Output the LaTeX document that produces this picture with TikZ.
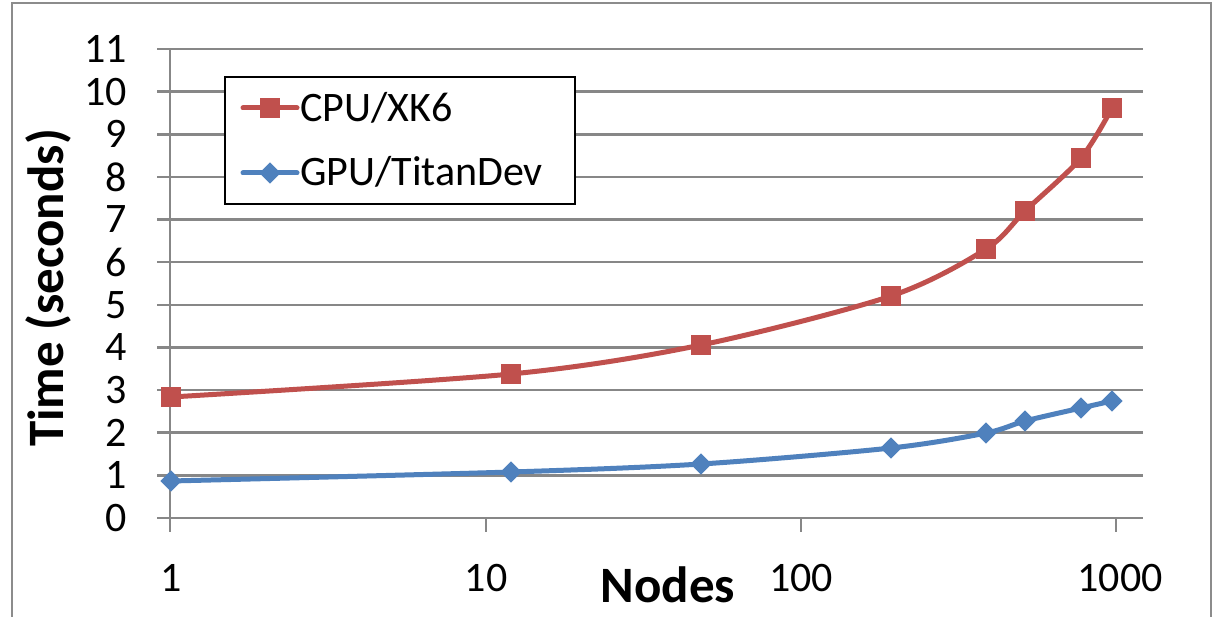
\documentclass[tikz,border=0pt]{standalone}
\usepackage{fontspec}
\setmainfont{Carlito}
\definecolor{cpured}{HTML}{C0504D}
\definecolor{gpublue}{HTML}{4F81BD}
\definecolor{gridgray}{HTML}{878787}
\definecolor{framegray}{HTML}{8C8C8C}
\tikzset{
  grid line/.style={draw=gridgray, line width=2.6pt},
  tick label/.style={font=\fontsize{42}{42}\selectfont, inner sep=0pt},
  axis title/.style={font=\fontsize{51}{51}\selectfont\bfseries, inner sep=0pt},
  legend text/.style={font=\fontsize{42}{42}\selectfont, inner sep=0pt, anchor=base west},
  cpu line/.style={draw=cpured, line width=5pt, line join=round},
  gpu line/.style={draw=gpublue, line width=5pt, line join=round},
  cpu mark/.style={fill=cpured, draw=none, minimum size=20pt, inner sep=0pt, rectangle},
  gpu mark/.style={fill=gpublue, draw=none, minimum size=15pt, inner sep=0pt, rectangle, rotate=45},
}
\begin{document}
\begin{tikzpicture}[x=1pt, y=-1pt]
  \useasboundingbox (0,0) rectangle (1214,617);
  \fill[white] (0,0) rectangle (1214,617);
  \clip (0,0) rectangle (1214,617);
  % chart frame
  \draw[framegray, line width=2.2pt] (12,3) rectangle (1211,640);

  % horizontal grid lines and y tick labels
  \foreach \v in {0,...,11} {
    \draw[grid line] (157,{518-42.64*\v}) -- (1143,{518-42.64*\v});
    \node[tick label, anchor=east] (ylab\v) at (127,{518-42.64*\v}) {\v};
  }
  % vertical axis and x ticks
  \draw[grid line] (170,49) -- (170,532);
  \foreach \p/\xx in {10/486, 100/801, 1000/1116}
    \draw[grid line] (\xx,518) -- (\xx,532);
  \foreach \p/\xx in {1/171, 10/486, 100/801, 1000/1120}
    \node[tick label] (xlab\p) at (\xx,578) {\p};

  % axis titles
  \node[axis title, anchor=base] (xtitle) at (668,602) {Nodes};
  \node[axis title, anchor=base, rotate=90] (ytitle) at (63,288) {Time (seconds)};

  % data series
  \draw[cpu line] plot[smooth, tension=0.5] coordinates
    {(171,397) (511,374) (701,345) (891,296) (986,249) (1025,211) (1081,158) (1112,108)};
  \foreach \xx/\yy [count=\i] in {171/397, 511/374, 701/345, 891/296, 986/249, 1025/211, 1081/158, 1112/108}
    \node[cpu mark] (cpu\i) at (\xx,\yy) {};
  \draw[gpu line] plot[smooth, tension=0.5] coordinates
    {(171,481) (511,472) (701,464) (891,448) (986,433) (1025,421) (1081,408) (1112,401)};
  \foreach \xx/\yy [count=\i] in {171/481, 511/472, 701/464, 891/448, 986/433, 1025/421, 1081/408, 1112/401}
    \node[gpu mark] (gpu\i) at (\xx,\yy) {};

  % legend
  \draw[black, line width=2.2pt, fill=white] (225,77) rectangle (575,204);
  \coordinate (lc1a) at (243,108);
  \coordinate (lc1b) at (297,108);
  \draw[cpu line, line cap=round] (lc1a) -- (lc1b);
  \node[cpu mark] (legcpu) at (270,108) {};
  \node[legend text] (legcputext) at (300,122) {CPU/XK6};
  \coordinate (lc2a) at (243,173);
  \coordinate (lc2b) at (297,173);
  \draw[gpu line, line cap=round] (lc2a) -- (lc2b);
  \node[gpu mark] (leggpu) at (270,173) {};
  \node[legend text] (leggputext) at (300,186) {GPU/TitanDev};
\end{tikzpicture}
\end{document}
